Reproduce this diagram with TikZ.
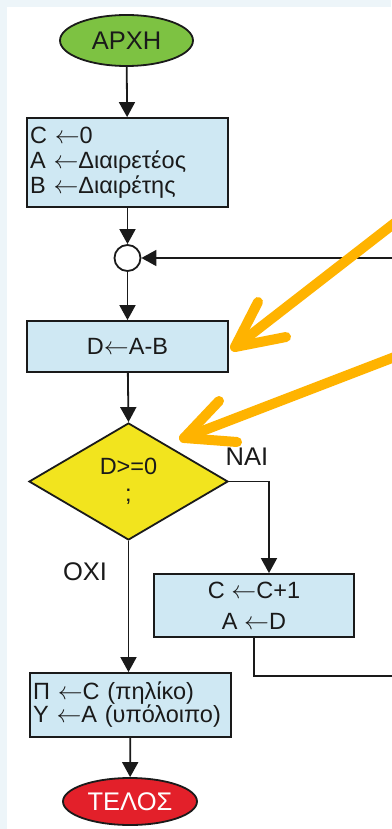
\documentclass[tikz,border=0pt]{standalone}
\usepackage{fontspec}
\setmainfont{Liberation Sans}
\usetikzlibrary{shapes.geometric,arrows.meta}
\definecolor{bgblue}{HTML}{EDF5F9}
\definecolor{boxblue}{HTML}{CFE8F3}
\definecolor{startgreen}{HTML}{7DC242}
\definecolor{endred}{HTML}{E3202A}
\definecolor{decyellow}{HTML}{F2E41E}
\definecolor{linegray}{HTML}{1A1A1A}
\definecolor{markorange}{HTML}{FFB300}
\newcommand{\getsarrow}{\(\leftarrow\)}
\tikzset{
  flow/.style={draw=linegray, line width=1.8pt, text=linegray},
  procbox/.style={flow, fill=boxblue, rectangle, inner sep=0pt},
  termnode/.style={flow, ellipse, inner sep=0pt},
  conn/.style={draw=linegray, line width=1.8pt, -{Triangle[width=16pt,length=15pt]}},
  plainline/.style={draw=linegray, line width=1.8pt},
  hilite/.style={draw=markorange, line width=10pt, line cap=round, line join=round},
  txt/.style={font=\fontsize{23.5}{25}\selectfont, text=linegray},
  lbl/.style={font=\fontsize{25.5}{27}\selectfont, text=linegray},
}
\begin{document}
\begin{tikzpicture}[x=1pt,y=-1pt]
\useasboundingbox (0,0) rectangle (391,829);
\fill[bgblue] (0,0) rectangle (391,829);
\fill[white] (7,7) rectangle (391,829);

\node[termnode, fill=startgreen, minimum width=133, minimum height=51, lbl] (start) at (126.5,40.5) {ΑΡΧΗ};

\node[procbox, minimum width=201, minimum height=89, text width=195, align=left, txt] (init) at (127.5,162.5) {C \getsarrow0\\A \getsarrow Διαιρετέος\\B \getsarrow Διαιρέτης};

\node[flow, circle, fill=white, minimum size=26, inner sep=0pt] (join) at (127.5,258) {};

\node[procbox, minimum width=201, minimum height=51, txt] (sub) at (127.5,346.5) {D\getsarrow A-B};

\node[flow, diamond, fill=decyellow, minimum width=199, minimum height=117, inner sep=0pt, align=center, font=\fontsize{23.5}{27}\selectfont] (test) at (128.5,481.5) {D>=0\\;};

\node[procbox, minimum width=200, minimum height=63, align=center, font=\fontsize{23.5}{31}\selectfont] (inc) at (254,605.5) {C \getsarrow C+1\\A \getsarrow D};

\node[procbox, minimum width=201, minimum height=64, text width=195, align=left, font=\fontsize{23.5}{23}\selectfont] (res) at (130.5,705) {Π \getsarrow C (πηλίκο)\\Υ \getsarrow Α (υπόλοιπο)};

\node[termnode, fill=endred, minimum width=134, minimum height=47, lbl, text=white] (stop) at (130,801.5) {ΤΕΛΟΣ};

\node[lbl] (yes) at (247,457) {ΝΑΙ};
\node[lbl] (no) at (85,572) {ΟΧΙ};

\coordinate (lpA) at (394,676);
\coordinate (lpB) at (394,258);

\draw[conn] (start) -- (init);
\draw[conn] (init) -- (join);
\draw[conn] (join) -- (sub);
\draw[conn] (sub) -- (test.north);
\draw[conn] (test.east) -| ([xshift=15pt]inc.north);
\draw[conn] (test.south) -- (test.south |- res.north);
\draw[conn] (res) -- (stop);
\draw[plainline] (inc.south) |- (lpA) -- (lpB);
\draw[conn] (lpB) -- (join.east);

% orange highlight arrows
\coordinate (t1) at (235,347);
\coordinate (t1e) at (405,215);
\coordinate (t1a) at (258,302);
\coordinate (t1b) at (286,337);
\draw[hilite] (t1e) -- (t1);
\draw[hilite] (t1a) -- (t1) -- (t1b);
\coordinate (t2) at (184,438);
\coordinate (t2e) at (405,353);
\coordinate (t2a) at (219,401);
\coordinate (t2b) at (237,442);
\draw[hilite] (t2e) -- (t2);
\draw[hilite] (t2a) -- (t2) -- (t2b);
\end{tikzpicture}
\end{document}
